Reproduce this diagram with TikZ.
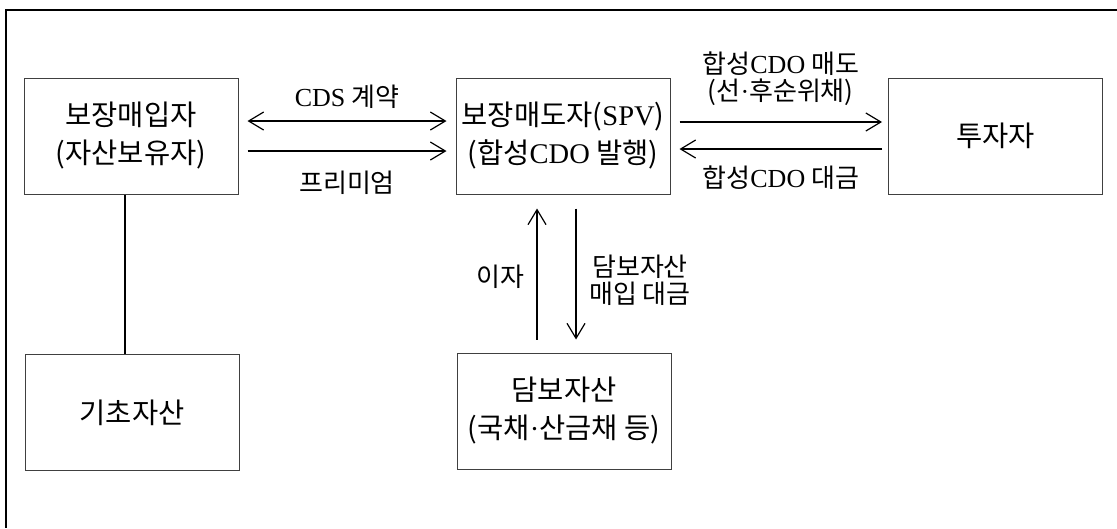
\documentclass[tikz,border=0pt]{standalone}
\usepackage{fontspec}
\setmainfont{Liberation Serif}
\newfontfamily\kr{Noto Sans CJK KR}
\usetikzlibrary{arrows.meta}
\newcommand{\lt}[1]{\textrm{#1}}
\begin{document}
\begin{tikzpicture}[x=1pt,y=-1pt,
  box/.style={draw=black!75,line width=1pt,minimum width=214pt,minimum height=116pt,
    align=center,inner sep=0pt,font=\kr\fontsize{28.5}{38}\selectfont},
  lab/.style={align=center,inner sep=0pt,font=\kr\fontsize{26}{27}\selectfont},
  arr/.style={line width=1.2pt,-{Straight Barb[length=15pt,width=18pt,line width=1.2pt]}},
  darr/.style={line width=1.2pt,{Straight Barb[length=15pt,width=18pt,line width=1.2pt]}-{Straight Barb[length=15pt,width=18pt,line width=1.2pt]}},
  frame/.style={line width=1.5pt}]
\useasboundingbox (0,0) rectangle (1117,528);
\draw[frame] (1117,10) -- (6,10) -- (6,528);
\node[box] (A) at (131,136) {보장매입자\\(자산보유자)};
\node[box] (B) at (563,136) {보장매도자(\lt{SPV})\\(합성\lt{CDO} 발행)};
\node[box] (C) at (995.5,136) {투자자};
\node[box] (D) at (132,412.5) {기초자산};
\node[box] (E) at (564,411) {담보자산\\(국채\lt{·}산금채 등)};
% left arrows
\draw[darr] ([shift={(9,-15)}]A.east) -- ([shift={(-9,-15)}]B.west)
  node[lab,midway,yshift=24pt] (l1) {\lt{CDS} 계약};
\draw[arr] ([shift={(9,15)}]A.east) -- ([shift={(-9,15)}]B.west)
  node[lab,midway,yshift=-32pt] (l2) {프리미엄};
% right arrows
\draw[arr] ([shift={(9,-14)}]B.east) -- ([shift={(-6,-14)}]C.west)
  node[lab,midway,yshift=43pt] (l3) {합성\lt{CDO} 매도\\(선\lt{·}후순위채)};
\draw[arr] ([shift={(-6,13)}]C.west) -- ([shift={(9,13)}]B.east)
  node[lab,midway,yshift=-29pt] (l4) {합성\lt{CDO} 대금};
% vertical arrows
\draw[arr] ([shift={(-27,-13)}]E.north) -- ([shift={(-26,14)}]B.south)
  node[lab,midway,xshift=-37pt,yshift=-3pt] (l5) {이자};
\draw[arr] ([shift={(13,14)}]B.south) -- ([shift={(12,-13)}]E.north)
  node[lab,midway,xshift=64pt,yshift=-6pt] (l6) {담보자산\\매입 대금};
% A to D
\draw[line width=1.2pt] ([xshift=-6pt]A.south) -- ([xshift=-7pt]D.north);
\end{tikzpicture}
\end{document}
